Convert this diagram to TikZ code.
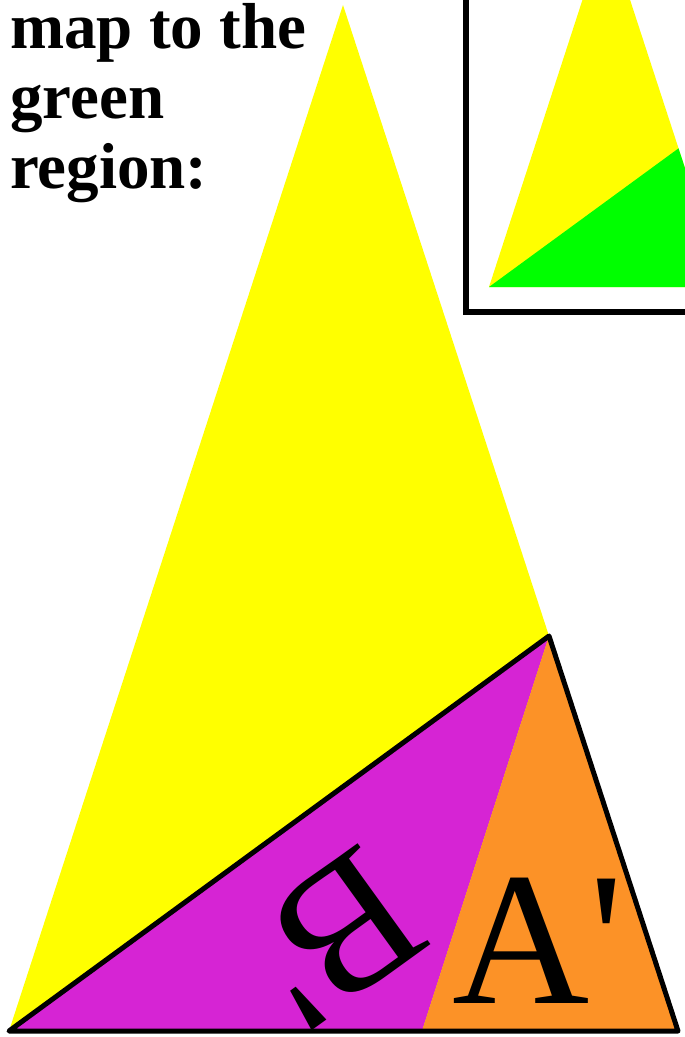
\documentclass[tikz,border=0pt]{standalone}
\usepackage{fontspec}
\setmainfont{Liberation Serif}
\definecolor{pureyellow}{RGB}{255,255,0}
\definecolor{puregreen}{RGB}{0,255,0}
\definecolor{gnomon}{RGB}{214,36,212}
\definecolor{goldtri}{RGB}{252,146,39}
\tikzset{
  outline/.style={line width=5pt, line join=round},
  biglabel/.style={font=\fontsize{190}{190}\selectfont, inner sep=0pt}
}

\begin{document}
\begin{tikzpicture}[x=1pt, y=-1pt]
  \useasboundingbox (0,0) rectangle (685,1037);
  \clip (0,0) rectangle (685,1037);

  % Sommets du grand triangle
  \coordinate (L) at (9,1031);
  \coordinate (T) at (343,5);
  \coordinate (R) at (678,1031);
  \coordinate (P) at (549,636);
  \coordinate (Q) at (422,1031);

  % Grand triangle jaune et decoupage
  \fill[pureyellow] (L) -- (T) -- (R) -- cycle;
  \fill[gnomon] (L) -- (P) -- (Q) -- cycle;
  \fill[goldtri] (Q) -- (P) -- (R) -- cycle;
  \draw[outline] (L) -- (P) -- (R) -- cycle;

  % Labels
  \node[biglabel, anchor=base] (labA) at (538,1003) {A\textquotesingle};
  \node[biglabel, rotate=215.84] (labB) at (334,938) {B\textquotesingle};

  % Petite copie (encadre)
  \begin{scope}[shift={(489,287)}, scale=0.351, shift={(-9,-1031)}]
    \coordinate (iL) at (9,1031);
    \coordinate (iT) at (343,5);
    \coordinate (iR) at (678,1031);
    \coordinate (iP) at (549,636);
  \end{scope}
  \fill[pureyellow] (iL) -- (iT) -- (iR) -- cycle;
  \fill[puregreen] (iL) -- (iP) -- (iR) -- cycle;
  \draw[line width=6pt] (466,-20) -- (466,312) -- (720,312);

  % Titre
  \node[font=\bfseries\fontsize{65}{70}\selectfont, align=left,
        anchor=north west, inner sep=0pt] (title) at (10,3)
        {map to the\\green\\region:};
\end{tikzpicture}
\end{document}
